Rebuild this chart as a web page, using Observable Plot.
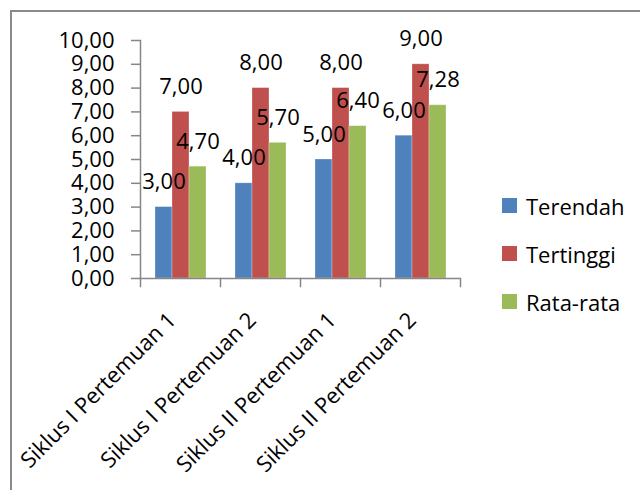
<!DOCTYPE html>
<html>
<head>
<meta charset="utf-8">
<script src="https://cdn.jsdelivr.net/npm/d3@7"></script>
<script src="https://cdn.jsdelivr.net/npm/@observablehq/plot@0.6"></script>
<style>
  html, body { margin: 0; padding: 0; background: #fff; }
  #wrap { position: relative; width: 640px; height: 490px; overflow: hidden; font-family: "Open Sans", sans-serif; }
  #border { position: absolute; left: 10px; top: 10px; width: 700px; height: 600px; border: 2px solid #8a8a8a; box-sizing: border-box; }
  #chart { position: absolute; left: 0; top: 0; }
  #legend { position: absolute; left: 502px; top: 191px; display: flex; flex-direction: column; gap: 19px; }
  .item { display: flex; align-items: center; height: 29px; font-size: 22px; color: #000; }
  .sw { width: 15px; height: 15px; margin-right: 9px; }
</style>
</head>
<body>
<div id="wrap">
  <div id="border"></div>
  <div id="chart"></div>
  <div id="legend"></div>
</div>
<script>
const categories = ["Siklus I Pertemuan 1", "Siklus I Pertemuan 2", "Siklus II Pertemuan 1", "Siklus II Pertemuan 2"];
const series = ["Terendah", "Tertinggi", "Rata-rata"];
const terendah = [3.00, 4.00, 5.00, 6.00];
const tertinggi = [7.00, 8.00, 8.00, 9.00];
const rataRata = [4.70, 5.70, 6.40, 7.28];
const colors = ["#4F81BD", "#C0504D", "#9BBB59"];
const yTicks = [0, 1, 2, 3, 4, 5, 6, 7, 8, 9, 10];

const values = [terendah, tertinggi, rataRata];
const data = categories.flatMap((c, i) => series.map((s, j) => ({category: c, series: s, value: values[j][i]})));
const fmt = d => d.toFixed(2).replace(".", ",");

const W = 640, H = 490, mT = 40, mB = 212, mL = 139, mR = 180;
const innerH = H - mT - mB;
const axisColor = "#868686";
const font = "'Open Sans', sans-serif";

const chart = Plot.plot({
  width: W, height: H,
  marginTop: mT, marginBottom: mB, marginLeft: mL, marginRight: mR,
  style: {fontFamily: font, fontSize: "22px", color: "#000", background: "transparent"},
  fx: {domain: categories, padding: 0, label: null, axis: null},
  x: {domain: series, paddingInner: 0, paddingOuter: 0.76, axis: null},
  y: {domain: [0, 10], axis: null},
  color: {domain: series, range: colors},
  marks: [
    Plot.barY(data, {fx: "category", x: "series", y: "value", fill: "series", stroke: "#ffffff", strokeOpacity: 0.35, strokeWidth: 0.8}),
    Plot.ruleY([0], {stroke: axisColor, strokeWidth: 1.5}),
    Plot.frame({anchor: "left", facetAnchor: "left", stroke: axisColor, strokeWidth: 1.5}),
    Plot.frame({anchor: "left", insetTop: innerH, insetBottom: -8, stroke: axisColor, strokeWidth: 1.5}),
    Plot.frame({anchor: "right", facetAnchor: "right", insetTop: innerH, insetBottom: -8, stroke: axisColor, strokeWidth: 1.5}),
    Plot.axisY({ticks: yTicks, tickFormat: fmt, tickSize: 9, tickPadding: 17, stroke: axisColor, strokeWidth: 1.5, fill: "#000", fontSize: 22, label: null}),
    Plot.axisFx({anchor: "bottom", tickSize: 0, tickRotate: -45, tickPadding: 38, dx: -8, fill: "#000", fontSize: 22, label: null}),
    Plot.text(data, {fx: "category", x: "series", y: "value", text: d => fmt(d.value), dy: -25, fontSize: 22, fill: "#000"})
  ]
});
document.getElementById("chart").appendChild(chart);

const legend = document.getElementById("legend");
series.forEach((s, i) => {
  const item = document.createElement("div");
  item.className = "item";
  const sw = document.createElement("span");
  sw.className = "sw";
  sw.style.background = colors[i];
  const t = document.createElement("span");
  t.textContent = s;
  item.appendChild(sw);
  item.appendChild(t);
  legend.appendChild(item);
});
</script>
</body>
</html>
